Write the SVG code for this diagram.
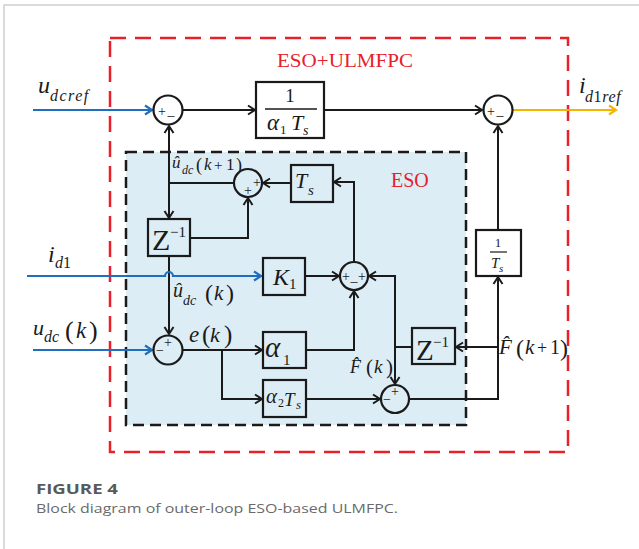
<svg xmlns="http://www.w3.org/2000/svg" width="639" height="549" viewBox="0 0 639 549">
<style>
.ln{fill:none;stroke:#1a1a1a;stroke-width:2}
.bl{fill:none;stroke:#1e6fbf;stroke-width:2.2}
.or{fill:none;stroke:#f5b400;stroke-width:2.2}
.box{fill:none;stroke:#1a1a1a;stroke-width:2.2}
.sum{fill:none;stroke:#1a1a1a;stroke-width:2.2}
.m{font-family:"Liberation Serif","Times New Roman",serif;fill:#1a1a1a}
.i{font-style:italic}
.sg{font-family:"Liberation Serif","Times New Roman",serif;fill:#1a1a1a;font-size:14px;text-anchor:middle}
.red{font-family:"Liberation Serif","Times New Roman",serif;fill:#e8202a}
.cap{font-family:"Open Sans","Liberation Sans",sans-serif;font-size:13.5px}
</style>
<defs>
<marker id="ah" viewBox="-9 -6 11 12" refX="0" refY="0" markerWidth="11" markerHeight="12" markerUnits="userSpaceOnUse" orient="auto"><path d="M-7,-4.5 L0,0 L-7,4.5" fill="none" stroke="#1a1a1a" stroke-width="2"/></marker>
<marker id="ab" viewBox="-9 -6 11 12" refX="0" refY="0" markerWidth="11" markerHeight="12" markerUnits="userSpaceOnUse" orient="auto"><path d="M-7,-4.5 L0,0 L-7,4.5" fill="none" stroke="#1e6fbf" stroke-width="2.2"/></marker>
<marker id="ao" viewBox="-9 -6 11 12" refX="0" refY="0" markerWidth="11" markerHeight="12" markerUnits="userSpaceOnUse" orient="auto"><path d="M-7,-4.5 L0,0 L-7,4.5" fill="none" stroke="#f5b400" stroke-width="2.2"/></marker>
</defs>
<rect width="639" height="549" fill="#fff"/>
<path d="M4,549 V5 H639" fill="none" stroke="#cfcfcf" stroke-width="1.5"/>

<g id="eso-ulmfpc-frame">
<rect x="110" y="38" width="458" height="414" fill="none" stroke="#e8202a" stroke-width="2.5" stroke-dasharray="16,9"/>
<text class="red" x="277" y="67" font-size="19" textLength="136" lengthAdjust="spacingAndGlyphs">ESO+ULMFPC</text>
</g>
<g id="eso-frame">
<rect x="126" y="152" width="340" height="273" fill="#dcedf6" stroke="#1a1a1a" stroke-width="2.5" stroke-dasharray="11,6"/>
<text class="red" x="391" y="187" font-size="20">ESO</text>
</g>

<g id="connectors">
<path class="bl" d="M33,110 H152" marker-end="url(#ab)"/>
<path class="ln" d="M183,110 H255" marker-end="url(#ah)"/>
<path class="ln" d="M324,110 H482" marker-end="url(#ah)"/>
<path class="or" d="M513,110 H616" marker-end="url(#ao)"/>
<path class="ln" d="M169,183 V126" marker-end="url(#ah)"/>
<path class="ln" d="M169,183 V218" marker-end="url(#ah)"/>
<path class="ln" d="M234,183 H169"/>
<path class="ln" d="M190,238 H248 V198" marker-end="url(#ah)"/>
<path class="ln" d="M291,183 H263" marker-end="url(#ah)"/>
<path class="ln" d="M354,262 V182 H334" marker-end="url(#ah)"/>
<path class="ln" d="M169,256 V334" marker-end="url(#ah)"/>
<path class="bl" d="M27,276 H165 A4,4 0 0 1 173,276 H261" marker-end="url(#ab)"/>
<path class="bl" d="M33,350 H152" marker-end="url(#ab)"/>
<path class="ln" d="M183,350 H262" marker-end="url(#ah)"/>
<path class="ln" d="M222,350 V399 H262" marker-end="url(#ah)"/>
<path class="ln" d="M305,276 H339" marker-end="url(#ah)"/>
<path class="ln" d="M306,350 H354 V291" marker-end="url(#ah)"/>
<path class="ln" d="M306,399 H380" marker-end="url(#ah)"/>
<path class="ln" d="M409,399 H498 V277" marker-end="url(#ah)"/>
<path class="ln" d="M498,347 H456" marker-end="url(#ah)"/>
<path class="ln" d="M412,347 H395"/>
<path class="ln" d="M395,347 V276 H369" marker-end="url(#ah)"/>
<path class="ln" d="M395,347 V384" marker-end="url(#ah)"/>
<path class="ln" d="M498,230 V126" marker-end="url(#ah)"/>
</g>

<g id="sum1"><circle class="sum" cx="168" cy="110" r="14.5"/><text class="sg" x="162" y="116">+</text><text class="sg" x="171" y="115">_</text></g>
<g id="sum2"><circle class="sum" cx="498" cy="110" r="14.5"/><text class="sg" x="491" y="116">+</text><text class="sg" x="500" y="115">_</text></g>
<g id="sum-ts"><circle class="sum" cx="248" cy="183" r="14"/><text class="sg" x="257" y="187">+</text><text class="sg" x="248" y="195">+</text></g>
<g id="sum-mid"><circle class="sum" cx="354" cy="276" r="14"/><text class="sg" x="346" y="281">+</text><text class="sg" x="354" y="281">_</text><text class="sg" x="362" y="281">+</text></g>
<g id="sum-e"><circle class="sum" cx="168" cy="350" r="14.5"/><text class="sg" x="168" y="347">+</text><text class="sg" x="160" y="355">−</text></g>
<g id="sum-f"><circle class="sum" cx="395" cy="399" r="14"/><text class="sg" x="395" y="396">+</text><text class="sg" x="387" y="404">−</text></g>

<g id="block-gain">
<rect class="box" x="256" y="82" width="68" height="56"/>
<text class="m" x="290" y="102" font-size="19" text-anchor="middle">1</text>
<path d="M265,109 H317" stroke="#1a1a1a" stroke-width="1.4"/>
<text class="m"><tspan class="i" x="267" y="130" font-size="23">α</tspan><tspan x="280" y="134" font-size="13">1</tspan><tspan class="i" x="291" y="130" font-size="22">T</tspan><tspan class="i" x="303" y="135" font-size="14">s</tspan></text>
</g>
<g id="block-ts">
<rect class="box" x="291" y="165" width="42" height="37"/>
<text class="m"><tspan class="i" x="295" y="188" font-size="22">T</tspan><tspan class="i" x="308" y="195" font-size="15">s</tspan></text>
</g>
<g id="block-z1">
<rect class="box" x="148" y="219" width="42" height="37"/>
<text class="m"><tspan x="152" y="250" font-size="30">Z</tspan><tspan x="170" y="237" font-size="15">−1</tspan></text>
</g>
<g id="block-k1">
<rect class="box" x="263" y="258" width="42" height="37"/>
<text class="m"><tspan class="i" x="273" y="285" font-size="24">K</tspan><tspan x="289" y="289" font-size="15">1</tspan></text>
</g>
<g id="block-a1">
<rect class="box" x="263" y="332" width="43" height="36"/>
<text class="m"><tspan class="i" x="265" y="357" font-size="29">α</tspan><tspan x="283" y="365" font-size="15">1</tspan></text>
</g>
<g id="block-a2ts">
<rect class="box" x="263" y="380" width="43" height="37"/>
<text class="m"><tspan class="i" x="266" y="403" font-size="21">α</tspan><tspan x="278" y="407" font-size="12">2</tspan><tspan class="i" x="284" y="406" font-size="19">T</tspan><tspan class="i" x="296" y="409" font-size="13">s</tspan></text>
</g>
<g id="block-z2">
<rect class="box" x="412" y="328" width="43" height="36"/>
<text class="m"><tspan x="416" y="360" font-size="29">Z</tspan><tspan x="433" y="347" font-size="15">−1</tspan></text>
</g>
<g id="block-invts">
<rect class="box" x="476" y="230" width="45" height="46"/>
<text class="m" x="498" y="247" font-size="13" text-anchor="middle">1</text>
<path d="M490,252 H507" stroke="#1a1a1a" stroke-width="1.2"/>
<text class="m"><tspan class="i" x="491" y="268" font-size="15">T</tspan><tspan class="i" x="499" y="272" font-size="11">s</tspan></text>
</g>

<g id="labels">
<text class="m"><tspan class="i" x="38" y="93" font-size="24">u</tspan><tspan class="i" x="50" y="101" font-size="16" letter-spacing="1.5">dcref</tspan></text>
<text class="m"><tspan class="i" x="579" y="93" font-size="24">i</tspan><tspan class="i" x="585" y="102" font-size="16" letter-spacing="0.6">d<tspan font-style="normal">1</tspan>ref</tspan></text>
<text class="m"><tspan class="i" x="48" y="262" font-size="24">i</tspan><tspan class="i" x="55" y="268" font-size="16">d<tspan font-style="normal">1</tspan></tspan></text>
<text class="m"><tspan class="i" x="33" y="335" font-size="22">u</tspan><tspan class="i" x="44" y="342" font-size="16">dc</tspan><tspan x="65" y="339" font-size="26">(</tspan><tspan class="i" x="76" y="338" font-size="23">k</tspan><tspan x="89" y="339" font-size="26">)</tspan></text>
<text class="m"><tspan class="i" x="173" y="297" font-size="20">û</tspan><tspan class="i" x="183" y="305" font-size="14">dc</tspan><tspan x="205" y="301" font-size="24">(</tspan><tspan class="i" x="214" y="300" font-size="21">k</tspan><tspan x="226" y="301" font-size="24">)</tspan></text>
<text class="m"><tspan class="i" x="189" y="342" font-size="23">e</tspan><tspan x="202" y="343" font-size="25">(</tspan><tspan class="i" x="210" y="342" font-size="22">k</tspan><tspan x="224" y="343" font-size="25">)</tspan></text>
<text class="m"><tspan class="i" x="172" y="168" font-size="17">û</tspan><tspan class="i" x="182" y="174" font-size="12">dc</tspan><tspan x="196" y="171" font-size="18">(</tspan><tspan class="i" x="204" y="170" font-size="17">k</tspan><tspan x="214" y="170" font-size="15">+</tspan><tspan x="226" y="170" font-size="17">1</tspan><tspan x="236" y="171" font-size="18">)</tspan></text>
<text class="m"><tspan class="i" x="350" y="373" font-size="18">F̂</tspan><tspan x="366" y="374" font-size="21">(</tspan><tspan class="i" x="374" y="373" font-size="19">k</tspan><tspan x="386" y="374" font-size="21">)</tspan></text>
<text class="m"><tspan class="i" x="499" y="354" font-size="21">F̂</tspan><tspan x="516" y="356" font-size="24">(</tspan><tspan class="i" x="525" y="354" font-size="21">k</tspan><tspan x="537" y="354" font-size="18">+</tspan><tspan x="550" y="354" font-size="20">1</tspan><tspan x="560" y="356" font-size="24">)</tspan></text>
</g>

<g id="caption">
<text class="cap" x="36" y="494" font-weight="bold" fill="#595959" textLength="82" lengthAdjust="spacingAndGlyphs">FIGURE 4</text>
<text class="cap" x="36" y="513" fill="#6a6a6a" textLength="362" lengthAdjust="spacingAndGlyphs">Block diagram of outer-loop ESO-based ULMFPC.</text>
</g>
</svg>
